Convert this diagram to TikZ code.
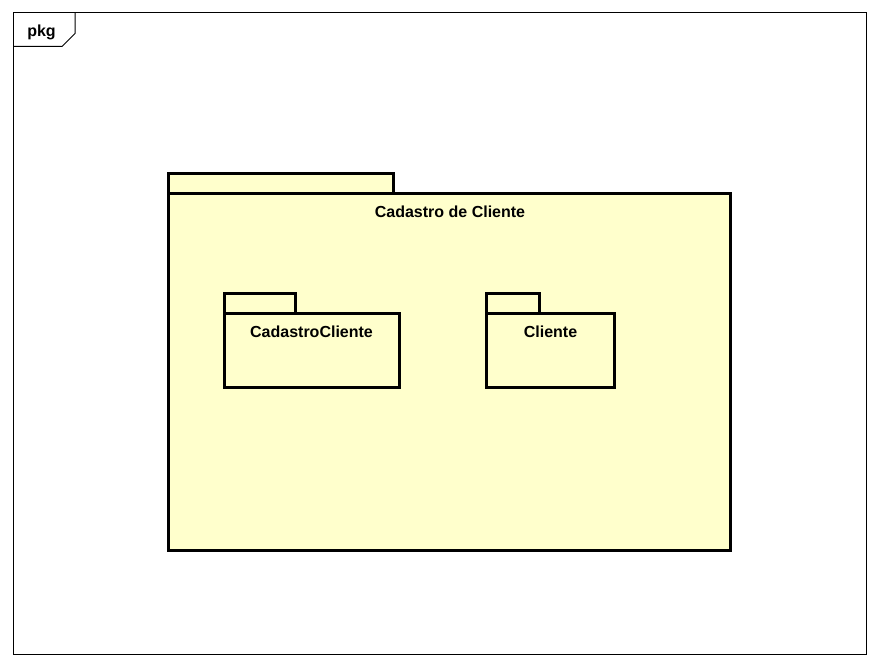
\documentclass[tikz,border=0pt]{standalone}
\usepackage{fontspec}
\setmainfont{Liberation Sans}
\definecolor{pkgfill}{HTML}{FFFFCC}
\begin{document}
\begin{tikzpicture}[x=1pt,y=-1pt,
  pkgline/.style={draw=black,line width=3pt,fill=pkgfill,line join=miter},
  frameline/.style={draw=black,line width=1pt},
  lbl/.style={font=\fontsize{16}{18}\selectfont\bfseries,inner sep=0pt,anchor=base}]
\useasboundingbox[fill=white] (0,0) rectangle (880,666);
% outer frame
\draw[frameline] (13,13) rectangle (866,654);
\draw[frameline] (13,46.5) -- (62,46.5) -- (75,33.5) -- (75,13);
\node[lbl] (pkg) at (41.5,37) {pkg};
% big package
\draw[pkgline] (168,173) rectangle (393,193);
\draw[pkgline] (168,193) rectangle (730,550);
\node[lbl] (main) at (450,217) {Cadastro de Cliente};
% CadastroCliente package
\draw[pkgline] (224,293) rectangle (295,313);
\draw[pkgline] (224,313) rectangle (399,387);
\node[lbl] (cc) at (311.5,337) {CadastroCliente};
% Cliente package
\draw[pkgline] (486,293) rectangle (539,313);
\draw[pkgline] (486,313) rectangle (614,387);
\node[lbl] (cl) at (550.5,337) {Cliente};
\end{tikzpicture}
\end{document}
